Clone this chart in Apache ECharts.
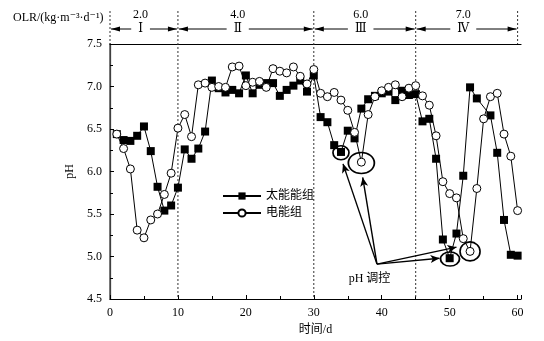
<!DOCTYPE html>
<html>
<head>
<meta charset="utf-8">
<script src="https://cdn.jsdelivr.net/npm/echarts@6/dist/echarts.min.js"></script>
<style>
  html, body { margin: 0; padding: 0; background: #fff; }
  #chart { width: 544px; height: 341px; }
</style>
</head>
<body>
<div id="chart"></div>
<script>
// 太能能组 (solar group)
const solarDays = [1, 2, 3, 4, 5, 6, 7, 8, 9, 10, 11, 12, 13, 14, 15, 16, 17, 18, 19, 20,
  21, 22, 23, 24, 25, 26, 27, 28, 29, 30, 31, 32, 33, 34, 35, 36, 37, 38, 39, 40,
  41, 42, 43, 44, 45, 46, 47, 48, 49, 50, 51, 52, 53, 54, 56, 57, 58, 59, 60];
const solarPH = [6.44, 6.37, 6.36, 6.42, 6.53, 6.24, 5.82, 5.54, 5.60, 5.81, 6.26, 6.15, 6.27, 6.47, 7.07, 6.98, 6.93, 6.96, 6.92, 7.13,
  6.92, 7.02, 7.04, 7.04, 6.89, 6.96, 7.01, 7.07, 6.94, 7.13, 6.64, 6.58, 6.31, 6.23, 6.48, 6.39, 6.74, 6.85, 6.89, 6.92,
  6.94, 6.84, 6.95, 6.90, 6.91, 6.59, 6.62, 6.15, 5.20, 4.98, 5.27, 5.95, 6.99, 6.86, 6.66, 6.22, 5.43, 5.02, 5.01];

// 电能组 (electric group)
const elecDays = [1, 2, 3, 4, 5, 6, 7, 8, 9, 10, 11, 12, 13, 14, 15, 16, 17, 18, 19, 20,
  21, 22, 23, 24, 25, 26, 27, 28, 29, 30, 31, 32, 33, 34, 35, 36, 37, 38, 39, 40,
  41, 42, 43, 44, 45, 46, 47, 48, 49, 50, 51, 52, 53, 54, 55, 56, 57, 58, 59, 60];
const elecPH = [6.44, 6.27, 6.03, 5.31, 5.22, 5.43, 5.50, 5.73, 5.98, 6.51, 6.67, 6.41, 7.02, 7.04, 6.99, 7.00, 6.99, 7.23, 7.24, 7.01,
  7.05, 7.06, 6.99, 7.21, 7.18, 7.16, 7.23, 7.12, 7.03, 7.20, 6.92, 6.88, 6.93, 6.84, 6.72, 6.46, 6.11, 6.67, 6.88, 6.95,
  6.99, 7.02, 6.88, 6.98, 7.01, 6.89, 6.78, 6.42, 5.88, 5.74, 5.69, 5.21, 5.06, 5.80, 6.62, 6.88, 6.92, 6.44, 6.18, 5.54];

// OLR stages
const stageBounds = [0, 10, 30, 45, 60];
const stageOLR = ['2.0', '4.0', '6.0', '7.0'];
const stageNames = ['Ⅰ', 'Ⅱ', 'Ⅲ', 'Ⅳ'];
const stageLabelDay = [4.5, 18.8, 36.9, 52];

// pH 调控 marks (day, pH, ellipse w, h)
const ctrlDays = [34, 37, 50.05, 53];
const ctrlPH = [6.22, 6.1, 4.97, 5.06];
const ctrlW = [16, 26, 19, 20];
const ctrlH = [14, 21, 14, 19];
const arrowFrom = [39.3, 4.91];
const arrowTo = [[34.3, 6.09], [37.2, 5.93], [48.5, 4.98], [51.0, 5.11]];

const serif = "'Liberation Serif', 'DejaVu Serif', serif";
const cjk = "'Liberation Serif', 'Noto Sans CJK SC', serif";

const chart = echarts.init(document.getElementById('chart'));

const option = {
  animation: false,
  backgroundColor: '#fff',
  grid: { left: 110, right: 23, top: 44, bottom: 42 },
  legend: {
    data: ['太能能组', '电能组'],
    orient: 'vertical',
    left: 217,
    top: 185,
    itemWidth: 38,
    itemHeight: 9,
    itemGap: 5,
    textStyle: { fontFamily: cjk, fontSize: 12, color: '#000' }
  },
  xAxis: [
    {
      type: 'value',
      min: 0,
      max: 60.5,
      interval: 10,
      name: '时间/d',
      nameLocation: 'middle',
      nameGap: 24,
      nameTextStyle: { fontFamily: cjk, fontSize: 12, color: '#000' },
      axisLine: { lineStyle: { color: '#000', width: 1.2 } },
      axisTick: { inside: true, length: 4, lineStyle: { color: '#000' } },
      minorTick: { show: true, splitNumber: 2, length: 3, lineStyle: { color: '#000' } },
      axisLabel: { fontFamily: serif, fontSize: 12, color: '#000', margin: 8, showMaxLabel: false },
      splitLine: { show: false }
    },
    {
      type: 'value',
      position: 'top',
      min: 0,
      max: 60.5,
      axisLine: { show: true, lineStyle: { color: '#000', width: 1.2 } },
      axisTick: { show: false },
      axisLabel: { show: false },
      splitLine: { show: false }
    }
  ],
  yAxis: [
    {
      type: 'value',
      min: 4.5,
      max: 7.5,
      interval: 0.5,
      name: 'pH',
      nameLocation: 'middle',
      nameGap: 26,
      nameTextStyle: { fontFamily: serif, fontSize: 12, color: '#000' },
      axisLine: { show: true, lineStyle: { color: '#000', width: 1.2 } },
      axisTick: { inside: true, length: 4, lineStyle: { color: '#000' } },
      minorTick: { show: true, splitNumber: 2, length: 3, lineStyle: { color: '#000' } },
      axisLabel: {
        fontFamily: serif, fontSize: 12, color: '#000', margin: 8,
        formatter: v => v.toFixed(1)
      },
      splitLine: { show: false }
    },
    {
      type: 'value',
      position: 'right',
      min: 4.5,
      max: 7.5,
      axisLine: { show: true, lineStyle: { color: '#555', width: 1.5 } },
      axisTick: { show: false },
      axisLabel: { show: false },
      splitLine: { show: false }
    }
  ],
  series: [
    {
      name: '太能能组',
      type: 'line',
      z: 3,
      data: solarDays.map((d, i) => [d, solarPH[i]]),
      symbol: 'rect',
      symbolSize: 8,
      showAllSymbol: true,
      lineStyle: { color: '#000', width: 1 },
      itemStyle: { color: '#000', borderColor: '#000', borderWidth: 0 }
    },
    {
      name: '电能组',
      type: 'line',
      z: 4,
      data: elecDays.map((d, i) => [d, elecPH[i]]),
      symbol: 'circle',
      symbolSize: 8,
      showAllSymbol: true,
      lineStyle: { color: '#000', width: 1 },
      itemStyle: { color: '#fff', borderColor: '#000', borderWidth: 1 }
    },
    {
      name: 'ctrl',
      type: 'scatter',
      z: 5,
      silent: true,
      data: ctrlDays.map((d, i) => ({ value: [d, ctrlPH[i]], symbolSize: [ctrlW[i], ctrlH[i]] })),
      symbol: 'circle',
      itemStyle: { color: 'rgba(0,0,0,0)', borderColor: '#000', borderWidth: 1.6, opacity: 1 },
      markLine: {
        silent: true,
        symbol: ['none', 'arrow'],
        symbolSize: [6, 9],
        label: { show: false },
        lineStyle: { color: '#000', width: 1.4, type: 'solid', opacity: 1 },
        data: arrowTo.map(t => [{ coord: arrowFrom }, { coord: t }])
      }
    }
  ]
};

chart.setOption(option);

// stage annotation above the plot, placed from the x axis scale
const yTop = chart.convertToPixel({ yAxisIndex: 0 }, 7.5);
const yBot = chart.convertToPixel({ yAxisIndex: 0 }, 4.5);
const xp = d => chart.convertToPixel({ xAxisIndex: 0 }, d);
const ctrlPos = chart.convertToPixel({ xAxisIndex: 0, yAxisIndex: 0 }, [38.2, 4.74]);

const g = [];
stageBounds.forEach((b, i) => {
  const inner = i > 0 && i < stageBounds.length - 1;
  g.push({
    type: 'line', silent: true, z: 1,
    shape: { x1: xp(b), y1: 11, x2: xp(b), y2: inner ? yBot : yTop },
    style: { stroke: '#333', lineWidth: 1, lineDash: [2, 2] }
  });
});
const arrowY = 29;
for (let i = 0; i < stageOLR.length; i++) {
  const x1 = xp(stageBounds[i]) + 1;
  const x2 = xp(stageBounds[i + 1]) - 1;
  const cx = xp(stageLabelDay[i]);
  g.push({
    type: 'line', silent: true,
    shape: { x1: x1, y1: arrowY, x2: x2, y2: arrowY },
    style: { stroke: '#000', lineWidth: 1 }
  });
  g.push({
    type: 'polygon', silent: true,
    shape: { points: [[x1, arrowY], [x1 + 9, arrowY - 2.5], [x1 + 9, arrowY + 2.5]] },
    style: { fill: '#000' }
  });
  g.push({
    type: 'polygon', silent: true,
    shape: { points: [[x2, arrowY], [x2 - 9, arrowY - 2.5], [x2 - 9, arrowY + 2.5]] },
    style: { fill: '#000' }
  });
  g.push({
    type: 'text', silent: true, z: 10,
    x: cx, y: arrowY,
    style: {
      text: stageNames[i], fontFamily: serif, fontSize: 12, fill: '#000',
      align: 'center', verticalAlign: 'middle',
      backgroundColor: '#fff', padding: [0, 7]
    }
  });
  g.push({
    type: 'text', silent: true,
    x: cx, y: 15,
    style: {
      text: stageOLR[i], fontFamily: serif, fontSize: 12, fill: '#000',
      align: 'center', verticalAlign: 'middle'
    }
  });
}
g.push({
  type: 'text', silent: true,
  x: 13, y: 18,
  style: {
    text: 'OLR/(kg·m⁻³·d⁻¹)', fontFamily: serif, fontSize: 12, fill: '#000',
    align: 'left', verticalAlign: 'middle'
  }
});
g.push({
  type: 'text', silent: true,
  x: ctrlPos[0], y: ctrlPos[1],
  style: {
    text: 'pH 调控', fontFamily: cjk, fontSize: 12, fill: '#000',
    align: 'center', verticalAlign: 'middle'
  }
});

chart.setOption({ graphic: g });
</script>
</body>
</html>
